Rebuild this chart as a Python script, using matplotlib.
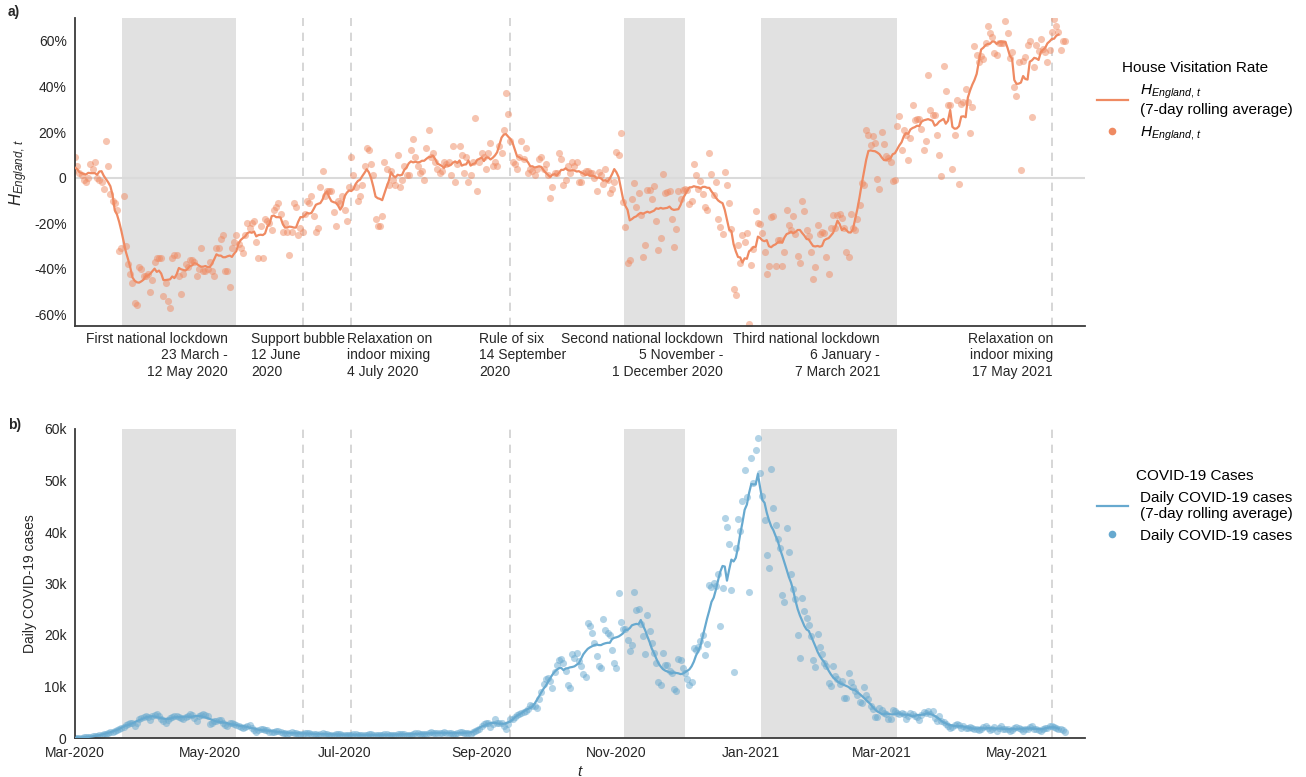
import numpy as np
import pandas as pd
import matplotlib
matplotlib.use('Agg')
import matplotlib.pyplot as plt
import matplotlib.dates as mdates
from matplotlib.lines import Line2D

plt.rcParams['font.family'] = ['Liberation Sans', 'DejaVu Sans']
plt.rcParams['mathtext.fontset'] = 'custom'
plt.rcParams['mathtext.it'] = 'Liberation Sans:italic'
plt.rcParams['mathtext.rm'] = 'Liberation Sans'
plt.rcParams['mathtext.bf'] = 'Liberation Sans:bold'

# ---------------- data ----------------
START_DATE = '2020-02-27'   # daily series (first 3 days fall before the x range)

# House visitation rate, % (daily)
house_visits = [
    4, 7, 3,
    # Mar 2020 ->
    9, 5, 2, 1, -1, -2, 0, 6, 4, 7,
    0, -1, -2, -5, 16, 5, -7, -10, -11, -14,
    -32, -31, -8, -30, -38, -42, -46, -55, -56, -39,
    -40, -43, -43, -42, -50, -45, -37, -35, -35, -35,
    -52, -46, -54, -57, -35, -34, -34, -43, -51, -42,
    -38, -39, -36, -36, -37, -43, -40, -31, -41, -41,
    -40, -37, -41, -43, -31, -31, -27, -25, -41, -41,
    -48, -31, -28, -25, -29, -31, -33, -25, -20, -22,
    -20, -19, -28, -35, -21, -35, -18, -19, -20, -23,
    -14, -13, -11, -16, -24, -20, -24, -34, -24, -11,
    -13, -25, -22, -24, -16, -10, -11, -8, -17, -24,
    -22, -4, 3, -8, -6, -6, -6, -15,
    -21, -10, -11, -8, -14, -19, -4, 9, 1, -4,
    -10, -8, -3, 5, 13, 12, 6, 1, -18, -21,
    -21, -17, 7, 4, -3, 3, -1, -3, 10, -4,
    -1, 5, 1, 1, 12, 17, 9, 5, 2, 3,
    -1, 13, 21, 9, 11, 7, 4, 2, 3, 7,
    6, 7, 1, 14, -2, 6, 14, 10, 2, 9,
    -2, 1, 7, 26, -6, 7, 11, 9, 4, 11,
    15, 5, 7, 5, 14, 11, 21, 37, 28, 16,
    7, 6, 4, 9, 16, 8, 13, 2, 4, 3,
    1, 4, 8, 9, 4, 6, 1, -9, -4, 2,
    2, 11, 8, -3, -1, 5, 2, 7, 5, 7,
    -2, -2, 2,
    3, 3, 2, 2, 0, -6, 2.5, 1, -2.6, 3.8,
    -0.9, -6.7, -4.8, -1.9, 11.1, 10.1, 19.5, -10.8, -21.7, -37.6,
    -36.2, -9.3, -2.3, -13, -6.7, -16.2, -34.7, -29.6, -5.5, -5.2,
    -9.3, -3.8, -19.1, -31.8, -26.4, 1.6, -6.7, -6.4, -6, -18.1,
    -30.5, -22.5, -6, -9.3, -5.2, -4.9, -5.2, -11.4, -10.4, 6.1,
    1.3, -4.9, -1.6, -7.1, -12.8, -14, 10.8, 1.6, -7.7, -2,
    -17.9, -21.6, -24.6, 2.5, -3.4, -11.1, -22.5, -48.7, -51.2, -29.6,
    -37.6, -25.2, -28.3, -24.2, -64.2, -38.1, -31.2, -14.7, -19.8, -20.1,
    -24.2, -32.7, -42, -38.8, -17.2, -16.6, -38.8, -27.1, -27.1, -38.8,
    -32.7, -14.3, -20.6, -22.8, -16.6, -24.5, -34.1, -37.6, -10.1, -14.7,
    -22.8, -25.7, -32.5, -44.6, -39.1, -20.6, -24.5, -23.9, -24.2, -34.7,
    -42.4, -22, -16.2,
    -22, -16.2, -15.8, -17.6, -22, -32.7, -34.7, -15.8, -22, -23,
    -17.9, -11.8, -2.3, -3.4, 21, 18.8, 14.4, 18.4, 15.2, -0.6,
    -5, 20, 14.9, 9.3, 8.6, 7.1, -1.6, -0.9, 22.5, 27.1,
    12.3, 21, 18.8, 7.9, 17.4, 31.7, 25.4, 25.7, 25.7, 21.4,
    12.3, 15.9, 45.1, 29.8, 27.6, 27.6, 18.8, 9.8, 0.9, 49,
    38.2, 31.9, 31.9, 3.9, 18.8, 34.1, -2.8, 32.4, 33, 38.9,
    33, 19.8, 31.2, 57.8, 53.8, 50.9, 53.4, 51.9, 58.9, 66.7,
    63.3, 61.6, 54.6, 53.8, 58.9, 58.9, 59.2, 68.9, 63.3, 52.4,
    54.9, 39.7, 35.6, 50.5, 3.5, 51.3, 53.1, 58.2, 59.7, 26.5,
    48.7, 58.2, 55.7, 60.7, 56.3, 55.3, 50.6, 56, 64, 69.4,
    66.7, 63.7, 56, 59.7, 59.7,
]

# Daily COVID-19 cases (daily)
covid_cases = [
    15, 20, 30,
    40, 50, 70, 90, 120, 150, 190, 240, 300, 370, 450, 540, 640, 750, 870, 990, 1110, 1230, 1380, 1550, 1750,
    1900, 2140, 2500, 2790, 2900, 2990, 2340, 3000, 3640, 3900,
    4160, 4200, 4160, 3510, 4290, 4450, 4610, 4290, 3770, 3300,
    2990, 3510, 3900, 4160, 4290, 4200, 4160, 3900, 3640, 4000,
    4290, 4740, 4480, 3900, 3310, 4290, 4500, 4740, 4500, 4290,
    2790, 3000, 3310, 3310, 3400, 3510, 2990, 2600, 2340, 2990,
    2990, 2700, 2470, 2300, 2210, 2010, 2200, 2340, 2530, 2010,
    1600, 1230, 1500, 1690, 1690, 1600, 1490, 1230,
    1100, 1250, 1400, 1300, 1150, 1000, 900, 850, 1000, 1150,
    1050, 950, 850, 780, 750, 900, 1000, 950, 850, 750,
    700, 650, 800, 900, 850, 750, 650, 600, 580, 700,
    800, 750, 650, 600, 550, 540, 650, 750, 700, 600,
    560, 520, 500, 620, 720, 680, 600, 560, 520, 500,
    640, 760, 720, 650, 600, 560, 540, 700, 850, 800,
    720, 660, 620, 600, 780, 950, 900, 820, 780, 750,
    720, 900, 1100, 1050, 950, 900, 900,
    950, 1100, 1050, 950, 900, 850, 800, 1000, 1150, 1100,
    1000, 950, 900, 850, 1200, 1400, 1500, 1800, 2400, 2700,
    2900, 3000, 2150, 2800, 3600, 3000, 3000, 2900, 2400, 1700,
    2800,
    3600, 3700, 4100, 4500, 4600, 4800, 5000, 5300, 5600, 6400,
    6300, 6200, 5900, 7500, 8900, 10500, 11500, 11600, 11000, 9800,
    12800, 14100, 15200, 15400, 14500, 13100, 10200, 9800, 16300, 15600,
    16500, 15000, 14000, 12400, 11900, 22300, 21700, 20400, 18500, 16000,
    13900, 13500, 23100, 20900, 20400, 20000, 17000, 14500, 13500, 28200,
    22600, 21100, 21100, 19000, 16800, 18100, 28300, 24900, 25000, 22200,
    19800, 16300, 23900, 20700, 18500, 16500, 14600, 10900, 10300, 16500,
    14200, 14200, 13000, 12600, 9600, 9200, 15300,
    15130, 13570, 12530, 11500, 10260, 10970, 17400, 17080, 17730, 18770,
    20000, 16100, 18180, 29740, 29410, 30130, 29610, 31880, 21820, 29090,
    42730, 40970, 37730, 28830, 12730, 36880, 42600, 40190, 46000, 52000,
    46820, 28310, 54280, 49610, 56000, 58180, 51490, 46950, 42400, 35580,
    32990, 52140, 44740, 41300, 38700, 36950, 27790, 26360, 40840, 36100,
    31880, 28960, 27010, 20000, 15520, 27210, 24610, 23310, 22010, 19740,
    15130, 13700, 20190, 17600, 16300, 14550, 13900, 10650, 10130, 13900,
    12080, 11430, 10450, 11100, 7860, 7730, 12530, 10970, 10000, 9160,
    8380, 7010, 6880, 10000, 8380, 7530, 6230, 5580, 4090, 4090,
    5910, 5390, 4800, 4610, 3640, 3640, 5450, 5260, 4800, 4610,
    4930, 4610, 3640, 4290, 4930, 4740, 4290, 4090, 3440, 4480,
    5130, 4930,
    5260, 4610, 5260, 3960, 3310, 4290, 3310, 3180, 2790, 2340,
    2010, 2140, 2530, 2660, 2530, 2010, 2340, 1880, 2010, 2140,
    1880, 1690, 1820, 1490, 1690, 2140, 2340, 2010, 1560, 1690,
    2140, 1360, 2010, 2270, 1690, 1690, 1820, 1360, 1490, 1880,
    2210, 2010, 1690, 1360, 1820, 1690, 2140, 2340, 1820, 1690,
    1490, 1360, 1690, 1880, 2000, 2340, 2340, 2140, 2010, 1820,
    1800, 1500, 1170,
]

lockdowns = [('2020-03-23', '2020-05-12'), ('2020-11-05', '2020-12-01'), ('2021-01-06', '2021-03-07')]
relaxations = ['2020-06-12', '2020-07-04', '2020-09-14', '2021-05-17']
event_texts = [
    'First national lockdown\n23 March -\n12 May 2020',
    'Support bubble\n12 June\n2020',
    'Relaxation on\nindoor mixing\n4 July 2020',
    'Rule of six\n14 September\n2020',
    'Second national lockdown\n5 November -\n1 December 2020',
    'Third national lockdown\n6 January -\n7 March 2021',
    'Relaxation on\nindoor mixing\n17 May 2021',
]
h_yticks = [-60, -40, -20, 0, 20, 40, 60]
h_yticklabels = ['-60%', '-40%', '-20%', '0', '20%', '40%', '60%']
c_yticks = [0, 10000, 20000, 30000, 40000, 50000, 60000]
c_yticklabels = ['0', '10k', '20k', '30k', '40k', '50k', '60k']

# ---------------- derived ----------------
h = pd.Series(house_visits, index=pd.date_range(START_DATE, periods=len(house_visits), freq='D'))
c = pd.Series(covid_cases, index=pd.date_range(START_DATE, periods=len(covid_cases), freq='D'))
h_roll = h.rolling(7, center=True).mean()
c_roll = c.rolling(7, center=True).mean()

ORANGE = '#ef8a62'
BLUE = '#67a9cf'
SHADE = '#e1e1e1'
TXT = '#262626'

W, H = 1306, 777
fig = plt.figure(figsize=(W / 100, H / 100), dpi=100)
ax1 = fig.add_axes([75 / W, 1 - 326 / H, 1010 / W, 308 / H])
ax2 = fig.add_axes([75 / W, 1 - 738 / H, 1010 / W, 309 / H])

for ax in (ax1, ax2):
    for s, e in lockdowns:
        ax.axvspan(pd.Timestamp(s) - pd.Timedelta(hours=14), pd.Timestamp(e) + pd.Timedelta(days=1),
                   color=SHADE, lw=0, zorder=0)
    for d in relaxations:
        ax.axvline(pd.Timestamp(d), color='#d0d0d0', lw=1.2, ls=(0, (5, 4)), zorder=0.5)
    ax.set_xlim(pd.Timestamp('2020-03-01'), pd.Timestamp('2021-06-01'))
    ax.spines['top'].set_visible(False)
    ax.spines['right'].set_visible(False)
    for sp in ('left', 'bottom'):
        ax.spines[sp].set_color('#3a3a3a')
        ax.spines[sp].set_linewidth(1.3)
    ax.tick_params(length=0, labelsize=10, colors=TXT, pad=6)
    ax.xaxis.set_major_locator(mdates.MonthLocator(bymonth=[1, 3, 5, 7, 9, 11]))
    ax.xaxis.set_major_formatter(mdates.DateFormatter('%b-%Y'))

# top panel
ax1.axhline(0, color='#dadada', lw=1.5, zorder=0.6)
ax1.scatter(h.index, h.values, s=26, color=ORANGE, alpha=0.5, lw=0, zorder=2)
ax1.plot(h_roll.index, h_roll.values, color=ORANGE, lw=1.6, zorder=3)
ax1.set_ylim(-65, 70)
ax1.set_yticks(h_yticks)
ax1.set_yticklabels(h_yticklabels)
ax1.tick_params(axis='x', labelbottom=False)
ax1.set_ylabel(r'$H_{England,\,t}$', fontsize=12, color=TXT, labelpad=3)

text_x = [0.1515, 0.1743, 0.2693, 0.4000, 0.6416, 0.7970, 0.9683]
text_ha = ['right', 'left', 'left', 'left', 'right', 'right', 'right']
for x, ha, t in zip(text_x, text_ha, event_texts):
    ax1.text(x, -0.02, t, transform=ax1.transAxes, ha=ha, va='top', multialignment=ha,
             fontsize=10, color=TXT, linespacing=1.2)

hl = Line2D([], [], color=ORANGE, lw=1.6)
hd = Line2D([], [], color=ORANGE, marker='o', ls='none', markersize=5.5, markeredgewidth=0)
ax1.legend([hl, hd], [r'$H_{England,\,t}$' + '\n(7-day rolling average)', r'$H_{England,\,t}$'],
           title='House Visitation Rate', loc='upper left', bbox_to_anchor=(1.006, 0.88),
           frameon=False, fontsize=11, title_fontsize=11, handlelength=2.0,
           handletextpad=0.8, labelspacing=0.5, borderaxespad=0)

# bottom panel
ax2.scatter(c.index, c.values, s=26, color=BLUE, alpha=0.5, lw=0, zorder=2)
ax2.plot(c_roll.index, c_roll.values, color=BLUE, lw=1.6, zorder=3)
ax2.set_ylim(0, 60000)
ax2.set_yticks(c_yticks)
ax2.set_yticklabels(c_yticklabels)
ax2.set_ylabel('Daily COVID-19 cases', fontsize=10, color=TXT, labelpad=5)
ax2.set_xlabel('$t$', fontsize=11, color=TXT, labelpad=3)

cl = Line2D([], [], color=BLUE, lw=1.6)
cd = Line2D([], [], color=BLUE, marker='o', ls='none', markersize=5.5, markeredgewidth=0)
ax2.legend([cl, cd], ['Daily COVID-19 cases\n(7-day rolling average)', 'Daily COVID-19 cases'],
           title='COVID-19 Cases', loc='upper left', bbox_to_anchor=(1.006, 0.89),
           frameon=False, fontsize=11, title_fontsize=11, handlelength=2.0,
           handletextpad=0.8, labelspacing=0.5, borderaxespad=0)

fig.text(8 / W, 1 - 12 / H, 'a)', fontweight='bold', fontsize=10, va='center', ha='left', color=TXT)
fig.text(8 / W, 1 - 425 / H, 'b)', fontweight='bold', fontsize=10, va='center', ha='left', color=TXT)

fig.savefig('out.png', dpi=100)
